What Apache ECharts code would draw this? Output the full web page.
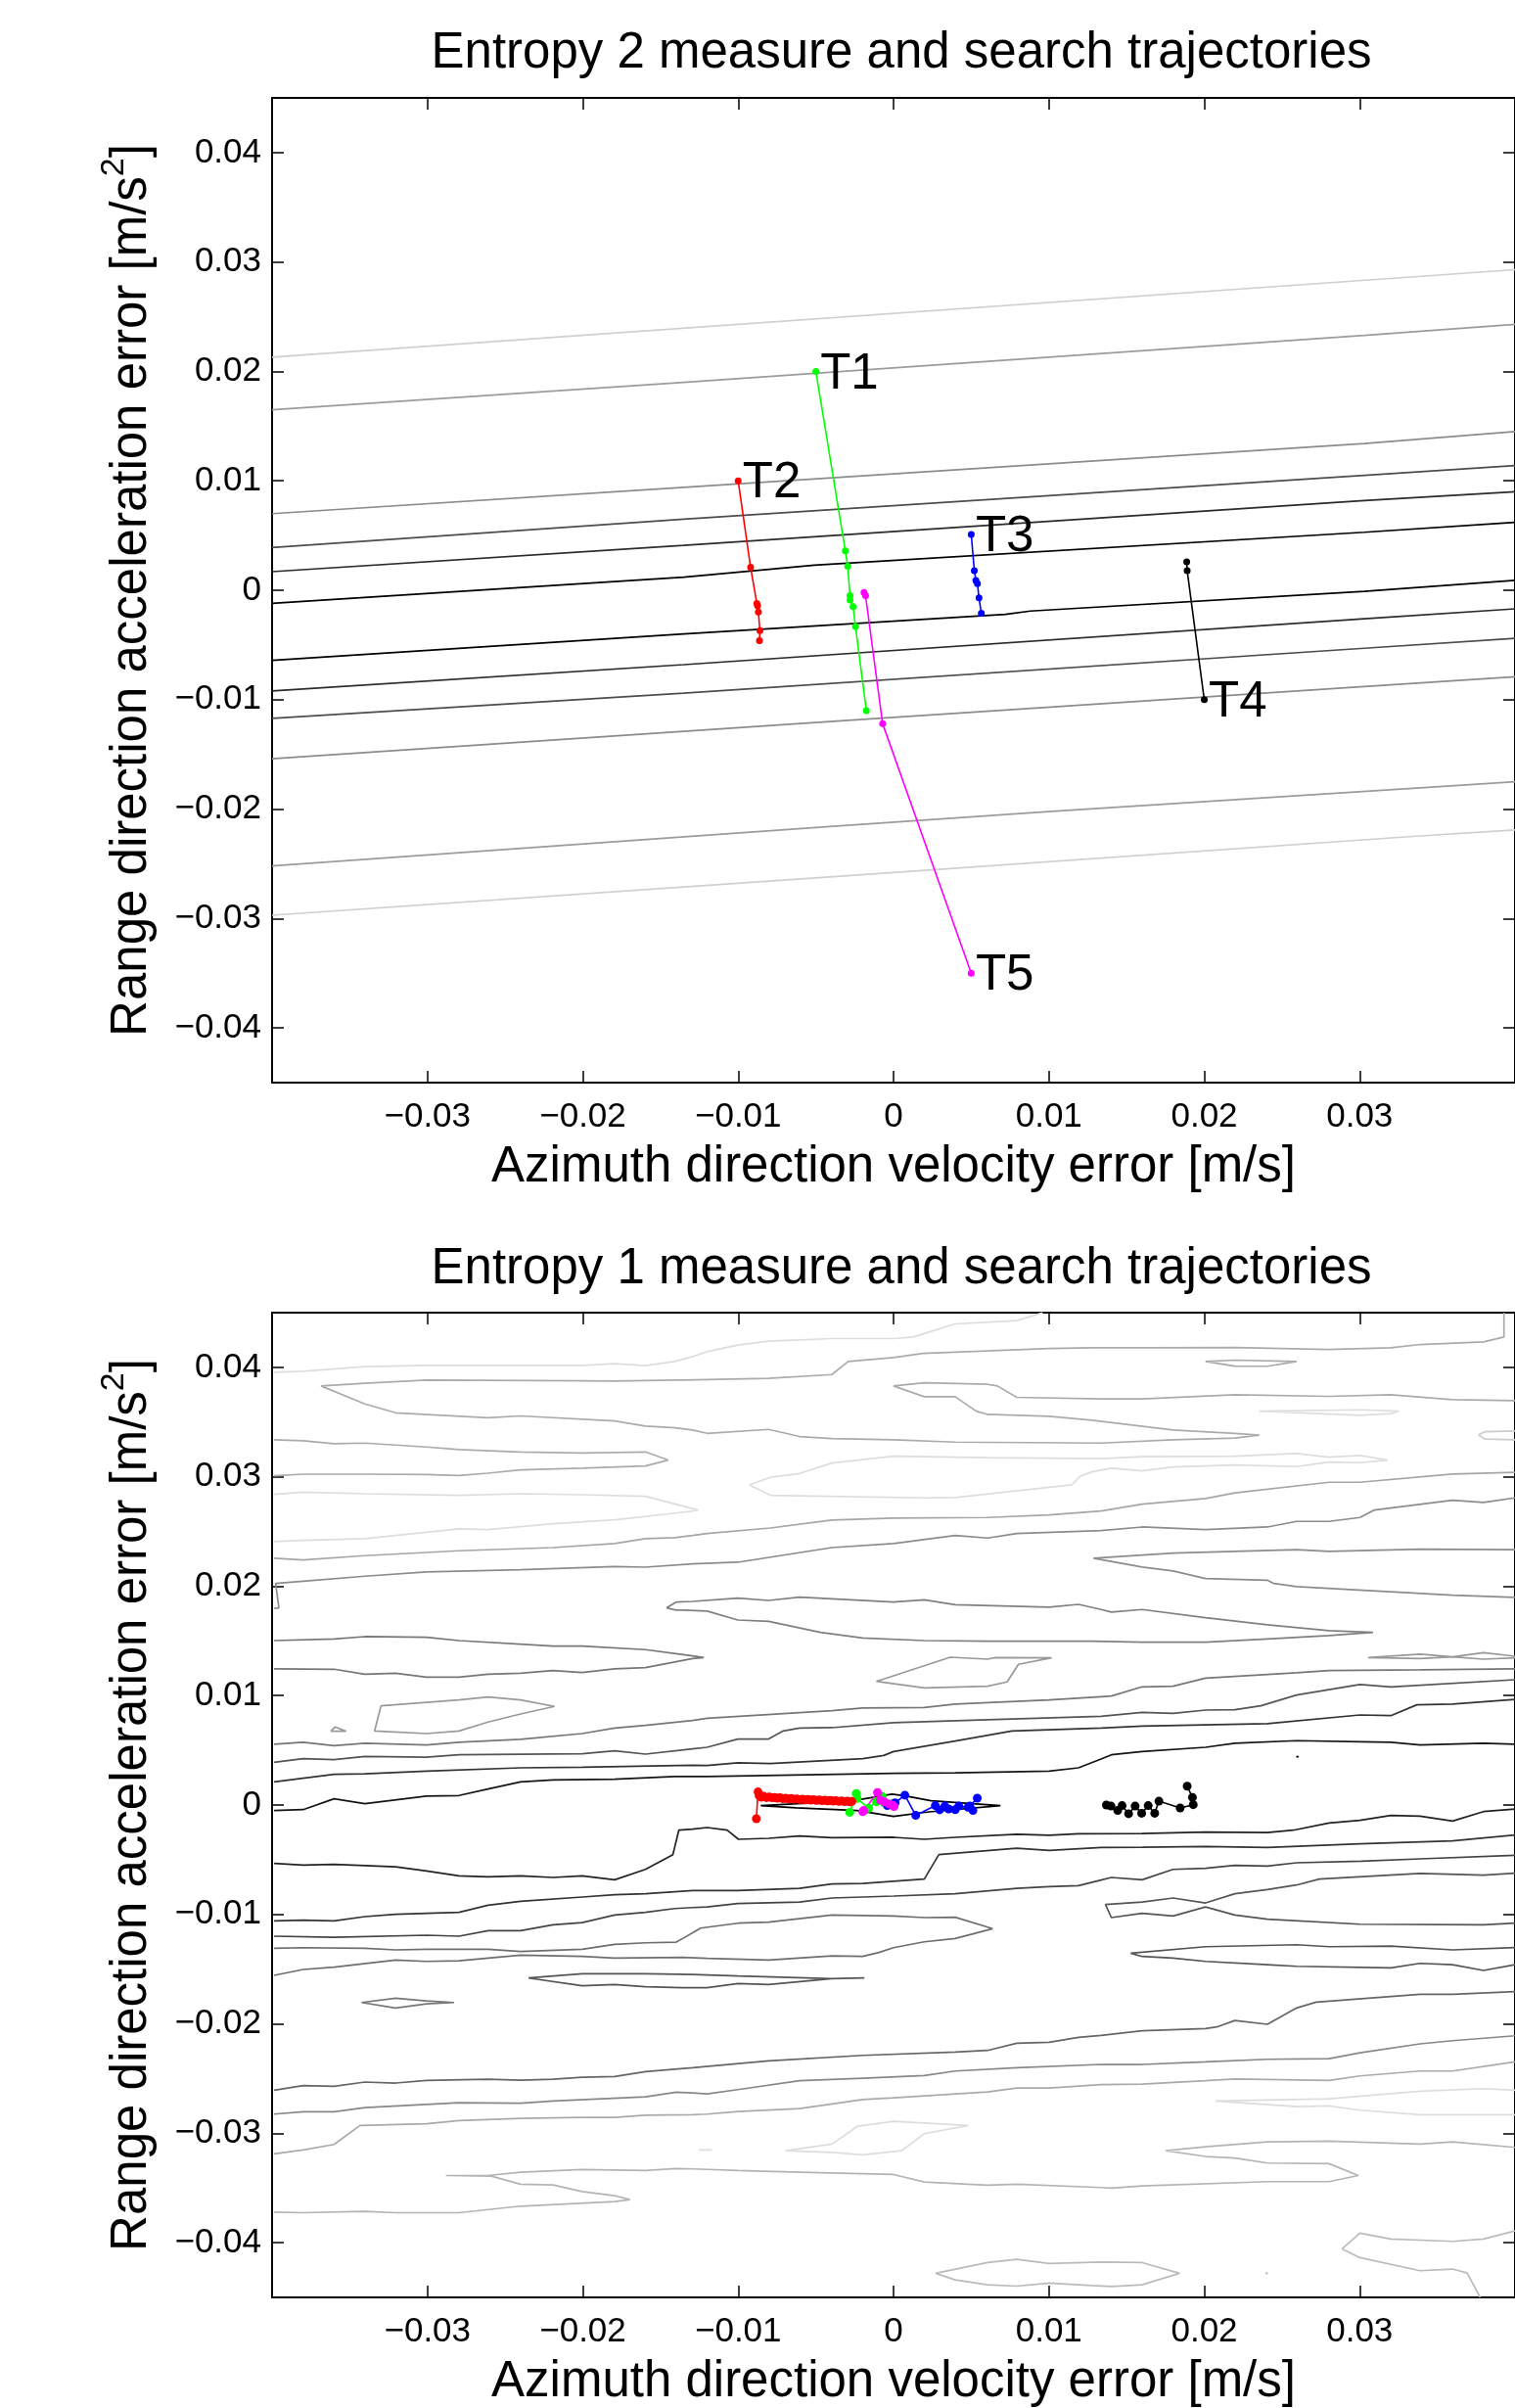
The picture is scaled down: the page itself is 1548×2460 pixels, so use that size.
<!DOCTYPE html>
<html>
<head>
<meta charset="utf-8">
<script src="https://cdn.jsdelivr.net/npm/echarts@6/dist/echarts.min.js"></script>
<style>
html,body{margin:0;padding:0;background:#fff;}
#chart{width:1548px;height:2460px;}
</style>
</head>
<body>
<div id="chart"></div>
<script>
// ---------- axis ticks ----------
const xTickValues = [-0.03, -0.02, -0.01, 0, 0.01, 0.02, 0.03];
const yTickValues = [-0.04, -0.03, -0.02, -0.01, 0, 0.01, 0.02, 0.03, 0.04];

// ---------- Entropy 2: contour lines ----------
const e2L01 = [[-0.04,0.0213],[0.04,0.0293]];
const e2L02 = [[-0.04,0.0165],[-0.0135,0.0190],[0.0303,0.0233],[0.04,0.0243]];
const e2L03 = [[-0.04,0.0070],[-0.0135,0.0094],[0.0303,0.0134],[0.04,0.0145]];
const e2L04 = [[-0.04,0.0039],[-0.0135,0.0065],[0.0303,0.0105],[0.04,0.0114]];
const e2L05 = [[-0.04,0.0017],[-0.0135,0.0041],[0.0303,0.0082],[0.04,0.0090]];
const e2L06 = [[-0.04,-0.0012],[-0.0135,0.0012],[-0.0051,0.0023],[0.0303,0.0053],[0.04,0.0062]];
const e2L07 = [[-0.04,-0.0064],[-0.0135,-0.0040],[0.0072,-0.0022],[0.0088,-0.0019],[0.0303,-0.0001],[0.04,0.0009]];
const e2L08 = [[-0.04,-0.0092],[-0.0135,-0.0068],[0.0303,-0.0026],[0.04,-0.0017]];
const e2L09 = [[-0.04,-0.0117],[-0.0135,-0.0094],[0.0303,-0.0053],[0.04,-0.0044]];
const e2L10 = [[-0.04,-0.0154],[-0.0135,-0.0129],[-0.0041,-0.0120],[0.0303,-0.0088],[0.04,-0.0079]];
const e2L11 = [[-0.04,-0.0252],[-0.0041,-0.0216],[0.0102,-0.0202],[0.0334,-0.0181],[0.04,-0.0175]];
const e2L12 = [[-0.04,-0.0297],[-0.0041,-0.0262],[0.0334,-0.0225],[0.04,-0.0219]];
const e2Contours = [e2L01,e2L02,e2L03,e2L04,e2L05,e2L06,e2L07,e2L08,e2L09,e2L10,e2L11,e2L12];
const e2ContourGray = ['#cfcfcf','#9c9c9c','#8c8c8c','#4d4d4d','#2b2b2b','#000000','#000000','#2b2b2b','#4d4d4d','#8c8c8c','#9c9c9c','#cfcfcf'];

// ---------- Entropy 2: search trajectories ----------
const trajNames = ['T1','T2','T3','T4','T5'];
const trajColors = ['#00ff00','#ff0000','#0000ff','#000000','#ff00ff'];
const e2T1 = [[-0.005,0.020],[-0.0031,0.0036],[-0.00295,0.0022],[-0.0028,-0.0005],[-0.0028,-0.0009],[-0.0026,-0.0015],[-0.00245,-0.0033],[-0.00175,-0.0110]];
const e2T2 = [[-0.010,0.010],[-0.0092,0.0021],[-0.0088,-0.0012],[-0.00875,-0.0014],[-0.0087,-0.0020],[-0.0086,-0.0037],[-0.00863,-0.0046]];
const e2T3 = [[0.005,0.0051],[0.0052,0.0018],[0.0053,0.0009],[0.0054,0.0006],[0.0055,-0.0007],[0.00565,-0.0021]];
const e2T4 = [[0.020,-0.010],[0.0189,0.0018],[0.01887,0.0026]];
const e2T5 = [[0.005,-0.035],[-0.0007,-0.0122],[-0.0018,-0.0005],[-0.0019,-0.0002]];
const e2Traj = [e2T1,e2T2,e2T3,e2T4,e2T5];

// ---------- Entropy 1: contour lines ----------
const e1A = [[-0.03987,0.03955],[-0.038,0.03964],[-0.03403,0.04006],[-0.03006,0.04018],[-0.02004,0.04018],[-0.01795,0.04033],[-0.01597,0.04015],[-0.01409,0.04054],[-0.01294,0.04098],[-0.012,0.04143],[-0.01002,0.04203],[-0.00804,0.04239],[-0.00397,0.04263],[0,0.04263],[0.00125,0.04277],[0.00397,0.04397],[0.00793,0.04427],[0.0096,0.045]];
const e1B = [[0.03929,0.045],[0.03929,0.04277],[0.03797,0.04233],[0.03389,0.04209],[0.03201,0.04179],[0.02803,0.04164],[0.02197,0.04182],[0.016,0.04179],[0.01276,0.04179],[0.01002,0.04173],[0.00188,0.04128],[0,0.0409],[-0.00292,0.04054],[-0.00397,0.03934],[-0.00804,0.03899],[-0.01357,0.03884],[-0.01409,0.03884],[-0.01795,0.03875],[-0.02004,0.03878],[-0.03006,0.03884],[-0.03403,0.03854],[-0.03685,0.0383],[-0.03403,0.03666],[-0.03205,0.03585],[-0.0261,0.0354],[-0.02401,0.03556],[-0.01795,0.03511],[-0.01597,0.03463],[-0.01409,0.03448],[-0.01294,0.03427],[-0.012,0.03397],[-0.00804,0.03433],[-0.00605,0.03368],[-0.00397,0.0335],[0,0.03338],[0.00397,0.03317],[0.01336,0.03308],[0.01799,0.03338],[0.02197,0.03353],[0.02354,0.0338],[0.02197,0.03397],[0.01799,0.03427],[0.01276,0.03517],[0.0119,0.03529],[0.01002,0.03553],[0.00605,0.0357],[0.00532,0.036],[0.00397,0.03732],[0.00198,0.03732],[0,0.0383],[0.00198,0.0386],[0.00605,0.03845],[0.00668,0.0383],[0.00793,0.03726],[0.01336,0.03711],[0.016,0.03711],[0.02197,0.0375],[0.02803,0.03735],[0.03201,0.0375],[0.03598,0.03705],[0.04,0.03696]];
const e1C = [[-0.03987,0.03338],[-0.038,0.03329],[-0.03601,0.03302],[-0.03403,0.03308],[-0.03006,0.03272],[-0.02797,0.03248],[-0.02401,0.03227],[-0.02004,0.03218],[-0.01597,0.03227],[-0.01451,0.03153],[-0.01597,0.03099],[-0.02004,0.03078],[-0.02401,0.03063],[-0.0261,0.03033],[-0.02797,0.03012],[-0.03006,0.03021],[-0.03403,0.03024],[-0.038,0.03024],[-0.03987,0.03009]];
const e1D = [[-0.03987,0.02839],[-0.038,0.0286],[-0.03403,0.02845],[-0.02797,0.0283],[-0.02401,0.02845],[-0.02004,0.02836],[-0.01597,0.02821],[-0.01294,0.0271],[-0.01257,0.02697],[-0.01294,0.02686],[-0.01597,0.02637],[-0.01795,0.02607],[-0.02192,0.02571],[-0.0261,0.02518],[-0.02797,0.02524],[-0.03403,0.02434],[-0.038,0.02419],[-0.03987,0.02407]];
const e1E = [[-0.03987,0.02255],[-0.038,0.0224],[-0.03403,0.02279],[-0.02797,0.02324],[-0.02192,0.02353],[-0.01795,0.02389],[-0.01597,0.02434],[-0.01409,0.02443],[-0.01294,0.02464],[-0.012,0.02482],[-0.00793,0.02532],[-0.00397,0.02604],[0,0.02622],[0.00605,0.02628],[0.01002,0.02652],[0.01336,0.02688],[0.016,0.0275],[0.02008,0.02801],[0.02197,0.02852],[0.02803,0.0295],[0.03002,0.0295],[0.03598,0.03025],[0.04,0.0304]];
const e1F = [[-0.03987,0.01796],[-0.03956,0.01802],[-0.03977,0.02025],[-0.038,0.02046],[-0.03403,0.02091],[-0.03006,0.0213],[-0.02401,0.02151],[-0.01795,0.0218],[-0.01597,0.02174],[-0.01294,0.02204],[-0.01002,0.02219],[-0.00397,0.02353],[0,0.02389],[0.00397,0.02464],[0.00605,0.0244],[0.00793,0.02482],[0.01336,0.02509],[0.016,0.02541],[0.02008,0.02518],[0.02406,0.02541],[0.02594,0.02592],[0.02803,0.02592],[0.03002,0.02628],[0.03096,0.02697],[0.03598,0.02786],[0.03797,0.02765],[0.04,0.02807]];
const e1G = [[0.04,0.02333],[0.03389,0.02339],[0.02803,0.02318],[0.02594,0.02333],[0.01799,0.02303],[0.01287,0.02255],[0.016,0.02175],[0.01799,0.02139],[0.02008,0.0207],[0.02406,0.02055],[0.02448,0.02025],[0.02594,0.01996],[0.03598,0.01918],[0.04,0.01897]];
const e1H = [[-0.01461,0.01802],[-0.01399,0.01855],[-0.01294,0.01861],[-0.01002,0.01891],[-0.00804,0.0187],[-0.00605,0.019],[0,0.01855],[0.00198,0.01876],[0.00397,0.01831],[0.01002,0.01808],[0.0119,0.01834],[0.01336,0.01787],[0.01402,0.01763],[0.016,0.01787],[0.02008,0.01712],[0.02406,0.01647],[0.02803,0.01593],[0.03086,0.01578],[0.02803,0.01548],[0.02406,0.01518],[0.02008,0.01488],[0.016,0.01488],[0.01276,0.01497],[0.00605,0.01497],[0.00198,0.01503],[-0.00198,0.01527],[-0.0047,0.01578],[-0.00804,0.01679],[-0.01002,0.01691],[-0.012,0.01772],[-0.01357,0.01781],[-0.01399,0.01781],[-0.01461,0.01802]];
const e1I = [[-0.03987,0.01503],[-0.03601,0.01518],[-0.03403,0.01539],[-0.03006,0.01533],[-0.02797,0.01503],[-0.02192,0.01453],[-0.02004,0.01453],[-0.01597,0.0142],[-0.01294,0.01363],[-0.01221,0.01348],[-0.01294,0.01339],[-0.01597,0.01256],[-0.01795,0.01244],[-0.02004,0.01211],[-0.02192,0.01229],[-0.02401,0.01205],[-0.0261,0.01196],[-0.02797,0.01169],[-0.03006,0.01169],[-0.03205,0.01205],[-0.03403,0.01196],[-0.03601,0.01241],[-0.03987,0.01244]];
const e1J = [[-0.03299,0.00907],[-0.02797,0.0096],[-0.0261,0.00987],[-0.02401,0.0096],[-0.02182,0.00901],[-0.02401,0.00832],[-0.0261,0.00758],[-0.02797,0.00677],[-0.03006,0.00653],[-0.0334,0.00677],[-0.03299,0.00907]];
const e1Jb = [[-0.03622,0.00674],[-0.03595,0.00713],[-0.03524,0.00674],[-0.03622,0.00674]];
const e1K = [[-0.00111,0.0113],[0.00365,0.01351],[0.00605,0.01333],[0.00658,0.01348],[0.01017,0.01345],[0.00804,0.01286],[0.00731,0.01125],[0.00605,0.01086],[0.00198,0.01071],[-0.00111,0.0113]];
const e1L = [[0.04,0.0136],[0.03797,0.01393],[0.03598,0.01354],[0.03389,0.01378],[0.03054,0.01348],[0.03389,0.01339],[0.03598,0.01354],[0.03797,0.01333],[0.04,0.01345]];
const e1M = [[0.02008,0.04054],[0.02197,0.04066],[0.02594,0.04054],[0.02406,0.0401],[0.02197,0.04012],[0.02008,0.04054]];
const e1N = [[0.02354,0.036],[0.03002,0.03612],[0.03253,0.036],[0.03201,0.03577],[0.03002,0.03562],[0.02354,0.036]];
const e1O = [[-0.00929,0.02926],[-0.00793,0.02995],[-0.00605,0.0303],[-0.00397,0.03126],[0,0.03189],[0.00605,0.03174],[0.01336,0.03165],[0.016,0.03183],[0.02197,0.03189],[0.02594,0.03213],[0.02803,0.0318],[0.03002,0.03195],[0.0318,0.03153],[0.03002,0.03129],[0.02803,0.03135],[0.02594,0.03093],[0.02197,0.03108],[0.01799,0.0309],[0.016,0.03054],[0.01402,0.03078],[0.01276,0.03045],[0.012,0.03004],[0.01148,0.02926],[0.00397,0.0281],[0.00198,0.02807],[-0.00793,0.02831],[-0.00929,0.02926]];
const e1P = [[0.04,0.03418],[0.03808,0.03412],[0.03766,0.03383],[0.03808,0.03344],[0.04,0.03338]];
const e1L1 = [[-0.03987,0.00555],[-0.038,0.00573],[-0.03601,0.00543],[-0.03403,0.00564],[-0.03006,0.00549],[-0.02797,0.00573],[-0.02401,0.006],[-0.02004,0.00653],[-0.01795,0.00704],[-0.01597,0.00728],[-0.01294,0.00773],[-0.012,0.00793],[-0.00397,0.00862],[-0.00198,0.00886],[0.00198,0.00892],[0.00397,0.00922],[0.01002,0.0096],[0.01336,0.0099],[0.01402,0.00996],[0.016,0.0108],[0.01799,0.01086],[0.02008,0.0116],[0.02594,0.01208],[0.02803,0.01229],[0.03389,0.01235],[0.04,0.01244]];
const e1L2 = [[-0.03987,0.00391],[-0.038,0.00424],[-0.03601,0.00415],[-0.03403,0.00444],[-0.03006,0.00438],[-0.02797,0.00459],[-0.02004,0.00468],[-0.01795,0.00495],[-0.01597,0.00465],[-0.01294,0.00513],[-0.012,0.00528],[-0.01002,0.00603],[-0.00804,0.00603],[-0.0071,0.00677],[-0.00605,0.00704],[-0.00397,0.00707],[0,0.00752],[0.00605,0.00779],[0.01336,0.00811],[0.016,0.00847],[0.01799,0.00838],[0.02008,0.00868],[0.02197,0.00871],[0.02364,0.00907],[0.02594,0.01005],[0.03002,0.01101],[0.03201,0.0108],[0.04,0.01145]];
const e1L3 = [[-0.03987,0.00212],[-0.038,0.00245],[-0.03601,0.0028],[-0.03403,0.00286],[-0.03006,0.0031],[-0.02401,0.0034],[-0.02004,0.00346],[-0.01294,0.00364],[-0.012,0.00361],[-0.01002,0.00385],[-0.00793,0.00379],[-0.00198,0.00424],[-0.00063,0.00453],[0,0.00489],[0.00397,0.00585],[0.00762,0.00677],[0.01336,0.00704],[0.016,0.00722],[0.02406,0.00743],[0.03002,0.00823],[0.03201,0.00817],[0.03368,0.00916],[0.03598,0.00922],[0.04,0.00966]];
const e1L4 = [[-0.03987,-0.0005],[-0.038,-0.00042],[-0.03601,0.00057],[-0.03403,0.00012],[-0.03006,0.00081],[-0.02797,0.00087],[-0.0261,0.00146],[-0.02401,0.00212],[-0.02192,0.0023],[-0.01795,0.00236],[-0.01409,0.0026],[-0.012,0.0026],[0,0.00289],[0.00397,0.00295],[0.01002,0.0031],[0.0119,0.0034],[0.01336,0.0042],[0.01402,0.00459],[0.016,0.00489],[0.02008,0.00528],[0.02197,0.00564],[0.02594,0.00588],[0.03002,0.00579],[0.03201,0.00573],[0.03389,0.00549],[0.03797,0.00564],[0.04,0.00555]];
const e1Z = [[-0.00855,-0.00005],[-0.00262,0.00039],[-0.0001,0.00099],[0.00073,0.00084],[0.00241,0.00039],[0.00688,-0.00005],[0.00213,-0.00065],[0,-0.00104],[-0.00234,-0.0005],[-0.00626,-0.00026],[-0.00855,-0.00005]];
const e1L5 = [[-0.03987,-0.00534],[-0.038,-0.00549],[-0.03601,-0.00543],[-0.03205,-0.00564],[-0.03006,-0.00603],[-0.02797,-0.00647],[-0.0261,-0.00656],[-0.02401,-0.00647],[-0.02192,-0.00662],[-0.02004,-0.00647],[-0.01795,-0.00683],[-0.01597,-0.00588],[-0.0142,-0.00453],[-0.01382,-0.0023],[-0.01294,-0.00221],[-0.012,-0.00206],[-0.01071,-0.0023],[-0.00998,-0.00313],[-0.00804,-0.00304],[-0.00605,-0.00283],[-0.00397,-0.00298],[0,-0.00295],[0.00198,-0.00313],[0.00397,-0.00295],[0.00793,-0.00268],[0.01002,-0.00277],[0.0119,-0.00262],[0.016,-0.0026],[0.02008,-0.00248],[0.02406,-0.00251],[0.02573,-0.0023],[0.02803,-0.00164],[0.03002,-0.0014],[0.03201,-0.00095],[0.03389,-0.00101],[0.03598,-0.00146],[0.03797,-0.0006],[0.04,-0.00036]];
const e1L6 = [[-0.03987,-0.01059],[-0.038,-0.01053],[-0.03601,-0.01059],[-0.03403,-0.0102],[-0.03205,-0.00999],[-0.02797,-0.00981],[-0.0261,-0.00916],[-0.02401,-0.0088],[-0.02004,-0.00841],[-0.01795,-0.0082],[-0.01597,-0.00811],[-0.01294,-0.00782],[-0.01002,-0.00782],[-0.00605,-0.00761],[-0.00397,-0.00722],[-0.00198,-0.00716],[0.00198,-0.00677],[0.00292,-0.00453],[0.00793,-0.00394],[0.01002,-0.00415],[0.01336,-0.00388],[0.016,-0.00385],[0.02008,-0.00379],[0.02406,-0.00388],[0.03002,-0.00355],[0.03598,-0.00328],[0.04,-0.00274]];
const e1L7 = [[-0.03987,-0.01199],[-0.03601,-0.01208],[-0.03006,-0.0119],[-0.02797,-0.01199],[-0.0261,-0.01148],[-0.02401,-0.01148],[-0.02192,-0.01095],[-0.02004,-0.01074],[-0.01795,-0.01005],[-0.01597,-0.00981],[-0.01409,-0.00946],[-0.01294,-0.00937],[-0.012,-0.00931],[-0.01002,-0.00901],[-0.00605,-0.00886],[-0.00397,-0.0085],[0,-0.00832],[0.00397,-0.00811],[0.00793,-0.00761],[0.01002,-0.00746],[0.0119,-0.00737],[0.01336,-0.00686],[0.01402,-0.00662],[0.016,-0.00683],[0.01799,-0.00588],[0.02008,-0.00579],[0.02197,-0.00552],[0.02406,-0.00558],[0.02594,-0.00528],[0.03012,-0.00513],[0.03389,-0.00492],[0.04,-0.00459]];
const e1L8 = [[-0.03987,-0.0131],[-0.038,-0.01304],[-0.03403,-0.0131],[-0.03205,-0.01324],[-0.03006,-0.01318],[-0.0261,-0.01318],[-0.02401,-0.01339],[-0.02004,-0.01318],[-0.01795,-0.01274],[-0.01597,-0.01259],[-0.01399,-0.01253],[-0.01357,-0.0122],[-0.01242,-0.01125],[-0.01002,-0.0108],[-0.00804,-0.01071],[-0.00397,-0.01005],[0,-0.01014],[0.00198,-0.01029],[0.00397,-0.01026],[0.00637,-0.0113],[0.00397,-0.0122],[0.00198,-0.0125],[0,-0.01304],[-0.00094,-0.01348],[-0.00198,-0.01384],[-0.00397,-0.01378],[-0.00804,-0.01417],[-0.012,-0.01402],[-0.01357,-0.01393],[-0.01795,-0.01399],[-0.02004,-0.01384],[-0.02401,-0.01372],[-0.02797,-0.01423],[-0.03006,-0.01429],[-0.03205,-0.01417],[-0.03601,-0.01482],[-0.038,-0.01503],[-0.03987,-0.01557]];
const e1L9 = [[-0.02349,-0.01581],[-0.02004,-0.01542],[-0.01597,-0.01542],[-0.01294,-0.01548],[-0.01002,-0.01563],[-0.00397,-0.01587],[-0.00188,-0.01581],[-0.00397,-0.01587],[-0.00804,-0.01641],[-0.01002,-0.01632],[-0.012,-0.0167],[-0.01357,-0.0167],[-0.01597,-0.01661],[-0.01795,-0.01641],[-0.02004,-0.01652],[-0.02349,-0.01581]];
const e1Q = [[-0.03424,-0.01805],[-0.03205,-0.01766],[-0.03006,-0.0179],[-0.02829,-0.01805],[-0.03006,-0.01817],[-0.03205,-0.01855],[-0.03424,-0.01805]];
const e1R = [[0.04,-0.00623],[0.03797,-0.00641],[0.03389,-0.00626],[0.02741,-0.00677],[0.02594,-0.00731],[0.02406,-0.00773],[0.02197,-0.00811],[0.02008,-0.00895],[0.01799,-0.0085],[0.016,-0.00886],[0.01364,-0.0091],[0.01402,-0.01029],[0.016,-0.0099],[0.01799,-0.01014],[0.02008,-0.00931],[0.02197,-0.01005],[0.02406,-0.01044],[0.03002,-0.01089],[0.03797,-0.01095],[0.04,-0.0108]];
const e1S = [[0.04,-0.01303],[0.03598,-0.01324],[0.03201,-0.01289],[0.02803,-0.01295],[0.02594,-0.01277],[0.02008,-0.01295],[0.01527,-0.01354],[0.016,-0.01384],[0.01799,-0.01399],[0.02008,-0.01429],[0.02406,-0.01459],[0.02594,-0.01474],[0.03201,-0.01488],[0.03389,-0.01447],[0.03598,-0.01459],[0.03797,-0.01512],[0.04,-0.01459]];
const e1L10 = [[-0.03987,-0.02607],[-0.038,-0.02565],[-0.03601,-0.02571],[-0.03403,-0.02532],[-0.03205,-0.02541],[-0.03006,-0.02518],[-0.0261,-0.02506],[-0.02401,-0.02515],[-0.02192,-0.02506],[-0.02004,-0.02488],[-0.01795,-0.02482],[-0.01597,-0.02437],[-0.01294,-0.02401],[-0.00804,-0.02339],[-0.00198,-0.02288],[0.00397,-0.02258],[0.00605,-0.02243],[0.00793,-0.02177],[0.01002,-0.02169],[0.0119,-0.02124],[0.01336,-0.02106],[0.016,-0.02064],[0.02008,-0.02043],[0.02082,-0.02028],[0.02197,-0.01969],[0.02406,-0.02004],[0.02594,-0.01855],[0.0272,-0.01802],[0.03389,-0.0173],[0.03598,-0.0173],[0.04,-0.01706]];
const e1L11 = [[-0.03987,-0.02825],[-0.038,-0.02804],[-0.03601,-0.02804],[-0.03403,-0.02765],[-0.02797,-0.0272],[-0.02401,-0.02726],[-0.02192,-0.02705],[-0.01597,-0.02667],[-0.01399,-0.02625],[-0.01294,-0.02631],[-0.012,-0.0264],[-0.01002,-0.02601],[-0.00605,-0.0252],[-0.00198,-0.02497],[0.00198,-0.02473],[0.00397,-0.02431],[0.00793,-0.02401],[0.01336,-0.02371],[0.016,-0.02371],[0.02008,-0.02348],[0.02406,-0.02324],[0.02803,-0.02318],[0.03002,-0.02264],[0.03389,-0.02183],[0.03598,-0.02154],[0.04,-0.02109]];
const e1L12 = [[-0.03987,-0.03189],[-0.038,-0.03153],[-0.03601,-0.03102],[-0.03434,-0.02929],[-0.03006,-0.02914],[-0.02797,-0.02884],[-0.02401,-0.02864],[-0.02004,-0.02855],[-0.01795,-0.02855],[-0.01597,-0.02834],[-0.01294,-0.02831],[-0.012,-0.02825],[-0.01002,-0.02801],[-0.00605,-0.02774],[-0.00198,-0.02691],[0,-0.02676],[0.00605,-0.02622],[0.00793,-0.02586],[0.01002,-0.02586],[0.01336,-0.02556],[0.016,-0.0255],[0.02008,-0.0252],[0.02197,-0.02503],[0.02803,-0.02518],[0.03002,-0.02476],[0.03389,-0.02431],[0.03598,-0.02431],[0.04,-0.02348]];
const e1L13 = [[0.04,-0.02607],[0.03797,-0.02592],[0.03389,-0.02616],[0.02803,-0.02685],[0.02071,-0.02706],[0.02594,-0.02756],[0.02803,-0.0275],[0.03002,-0.02789],[0.03389,-0.02831],[0.04,-0.02831]];
const e1L14 = [[-0.00693,-0.03159],[-0.00397,-0.03099],[-0.0023,-0.02935],[0,-0.0289],[0.0048,-0.02929],[0.00198,-0.03004],[0.00052,-0.03159],[-0.00198,-0.03198],[-0.00397,-0.03174],[-0.00693,-0.03159]];
const e1L14b = [[-0.01253,-0.03153],[-0.01169,-0.03153]];
const e1L15 = [[-0.03987,-0.0372],[-0.038,-0.03726],[-0.03403,-0.03714],[-0.03205,-0.03726],[-0.02797,-0.03726],[-0.02401,-0.03666],[-0.01795,-0.03624],[-0.01697,-0.03606],[-0.01795,-0.0357],[-0.02004,-0.03532],[-0.02192,-0.03472],[-0.02401,-0.03466],[-0.02589,-0.03392],[-0.02881,-0.03386],[-0.0261,-0.03386],[-0.02401,-0.03356],[-0.02004,-0.03332],[-0.01597,-0.03341],[-0.01399,-0.03323],[-0.01294,-0.03326],[-0.01002,-0.03341],[-0.00605,-0.03356],[0,-0.03377],[0.00198,-0.03445],[0.00605,-0.03475],[0.00793,-0.03466],[0.01336,-0.03496],[0.01402,-0.03502],[0.016,-0.03481],[0.02406,-0.03442],[0.02803,-0.03442],[0.02992,-0.03386],[0.02803,-0.03278],[0.02406,-0.03272],[0.02197,-0.03227],[0.02008,-0.03212],[0.01753,-0.03159],[0.02008,-0.03123],[0.02406,-0.03078],[0.02803,-0.03072],[0.03389,-0.03099],[0.03598,-0.03078],[0.04,-0.03129]];
const e1L16 = [[0.00271,-0.0428],[0.00605,-0.04182],[0.00793,-0.04152],[0.01002,-0.04191],[0.01336,-0.04176],[0.016,-0.04182],[0.01841,-0.0428],[0.016,-0.04385],[0.01402,-0.044],[0.01276,-0.04391],[0.01002,-0.0437],[0.00793,-0.04397],[0.00605,-0.04385],[0.00397,-0.0434],[0.00271,-0.0428]];
const e1L17 = [[0.04,-0.03893],[0.03797,-0.03967],[0.03598,-0.03988],[0.03201,-0.03967],[0.03002,-0.03913],[0.02887,-0.04057],[0.03002,-0.04137],[0.03389,-0.04256],[0.03598,-0.04241],[0.03692,-0.04277],[0.03776,-0.045]];
const e1Dot1 = [[0.02592,0.00441],[0.02608,0.00441]];
const e1Dot2 = [[0.02395,-0.0428],[0.02409,-0.0428]];
const e1Contours = [e1A,e1B,e1C,e1D,e1E,e1F,e1G,e1H,e1I,e1J,e1Jb,e1K,e1L,e1M,e1N,e1O,e1P,e1L1,e1L2,e1L3,e1L4,e1Z,e1L5,e1L6,e1L7,e1L8,e1L9,e1Q,e1R,e1S,e1L10,e1L11,e1L12,e1L13,e1L14,e1L14b,e1L15,e1L16,e1L17,e1Dot1,e1Dot2];
const e1ContourGray = ['#dddddd','#ababab','#ababab','#dddddd','#a6a6a6','#8c8c8c','#8c8c8c','#808080','#777777','#999999','#999999','#999999','#999999','#aaaaaa','#dddddd','#dddddd','#cccccc','#777777','#555555','#333333','#151515','#000000','#222222','#333333','#444444','#6e6e6e','#555555','#777777','#555555','#555555','#666666','#888888','#aaaaaa','#dddddd','#dddddd','#dddddd','#b4b4b4','#bbbbbb','#bbbbbb','#000000','#aaaaaa'];

// ---------- Entropy 1: search trajectories ----------
const e1T1 = [[-0.00282,-0.00066],[-0.0024,0.00105],[-0.00234,0.0006],[-0.0016,-0.0003],[-0.0011,0.0003],[-0.00073,0.00078],[-0.0006,0.0002],[-0.0002,0.0001],[0.00003,-0.00005]];
const e1T2 = [[-0.00883,-0.00125],[-0.00872,0.00120],[-0.00865,0.00085],[-0.00850,0.00072],[-0.00835,0.00080],[-0.00818,0.00068],[-0.00800,0.00074],[-0.00782,0.00066],[-0.00765,0.00070],[-0.00748,0.00062],[-0.00730,0.00066],[-0.00712,0.00058],[-0.00695,0.00063],[-0.00676,0.00055],[-0.00658,0.00060],[-0.00640,0.00052],[-0.00622,0.00057],[-0.00604,0.00050],[-0.00586,0.00054],[-0.00568,0.00047],[-0.00550,0.00052],[-0.00532,0.00045],[-0.00514,0.00049],[-0.00496,0.00043],[-0.00478,0.00047],[-0.00460,0.00040],[-0.00442,0.00045],[-0.00424,0.00038],[-0.00406,0.00043],[-0.00388,0.00036],[-0.00370,0.00040],[-0.00352,0.00034],[-0.00334,0.00038],[-0.00316,0.00031],[-0.00298,0.00036],[-0.00280,0.00028],[-0.00268,0.00033]];
const e1T3 = [[-0.0004,-0.00005],[0.0001,0.0002],[0.00073,0.0009],[0.00143,-0.00095],[0.00269,-0.00005],[0.00297,-0.00044],[0.0033,-0.0001],[0.00355,-0.00036],[0.00397,-0.00042],[0.0042,-0.0001],[0.0048,-0.00021],[0.00511,-0.0005],[0.0049,-0.0001],[0.00539,0.00063]];
const e1T4 = [[0.0137,0.0000],[0.0140,-0.0001],[0.01443,-0.0005],[0.01471,-0.00005],[0.01513,-0.0008],[0.01555,-0.0001],[0.01597,-0.00075],[0.01639,-0.00005],[0.01681,-0.00075],[0.01708,0.00035],[0.01845,-0.00027],[0.01929,0.00003],[0.01924,0.0007],[0.0189,0.00172]];
const e1T5 = [[-0.00198,-0.0006],[-0.00192,-0.0005],[-0.00103,0.00114],[-0.00084,0.00045],[-0.0006,0.0003],[-0.0003,0.0001],[0.00003,-0.00014],[-0.00004,-0.00003]];
const e1Traj = [e1T1,e1T2,e1T3,e1T4,e1T5];

const titles = ['Entropy 2 measure and search trajectories','Entropy 1 measure and search trajectories'];
const xName = 'Azimuth direction velocity error [m/s]';

// ---------- build chart ----------
const FONT = '"Liberation Sans", Arial, Helvetica, sans-serif';
const GRID_TOPS = [100, 1341];
const fmt = v => {
  if (Math.abs(v) < 1e-12) return '0';
  return (v < 0 ? '\u2212' : '') + Math.abs(v).toFixed(2);
};

const grids = GRID_TOPS.map(t => ({left: 278, top: t, width: 1277, height: 1006, containLabel: false}));
const xAxes = [], yAxes = [];
[0,1].forEach(g => {
  const common = {gridIndex: g, type: 'value', min: -0.04, max: 0.04, splitLine: {show: false},
    axisLine: {show: true, onZero: false, lineStyle: {color: '#000', width: 2}}};
  xAxes.push(Object.assign({}, common, {position: 'bottom',
    axisTick: {show: true, inside: true, length: 12, customValues: xTickValues, lineStyle: {color: '#000', width: 1.5}},
    axisLabel: {show: true, customValues: xTickValues, formatter: fmt, fontSize: 35, color: '#000', fontFamily: FONT, margin: 18},
    name: xName, nameLocation: 'middle', nameGap: 61,
    nameTextStyle: {fontSize: 51, color: '#000', fontFamily: FONT}}));
  xAxes.push(Object.assign({}, common, {position: 'top',
    axisTick: {show: true, inside: true, length: 12, customValues: xTickValues, lineStyle: {color: '#000', width: 1.5}},
    axisLabel: {show: false}}));
  const ycommon = {gridIndex: g, type: 'value', min: -0.045, max: 0.045, splitLine: {show: false},
    axisLine: {show: true, onZero: false, lineStyle: {color: '#000', width: 2}}};
  yAxes.push(Object.assign({}, ycommon, {position: 'left',
    axisTick: {show: true, inside: true, length: 12, customValues: yTickValues, lineStyle: {color: '#000', width: 1.5}},
    axisLabel: {show: true, customValues: yTickValues, formatter: fmt, fontSize: 35, color: '#000', fontFamily: FONT, margin: 11},
    name: '{t|Range direction acceleration error [m/s}{s|2}{t|]}', nameLocation: 'middle', nameGap: 118, nameRotate: 90,
    nameTextStyle: {color: '#000', fontFamily: FONT, rich: {
      t: {fontSize: 51, fontFamily: FONT, color: '#000', lineHeight: 60, verticalAlign: 'bottom'},
      s: {fontSize: 34, fontFamily: FONT, color: '#000', lineHeight: 60, verticalAlign: 'top'}}}}));
  yAxes.push(Object.assign({}, ycommon, {position: 'right',
    axisTick: {show: true, inside: true, length: 12, customValues: yTickValues, lineStyle: {color: '#000', width: 1.5}},
    axisLabel: {show: false}}));
});

const series = [];
function addContours(list, grays, g) {
  list.forEach((pts, i) => series.push({type: 'line', xAxisIndex: g*2, yAxisIndex: g*2, data: pts,
    symbol: 'none', showSymbol: false, silent: true, z: 2, animation: false,
    lineStyle: {color: grays[i], width: 1.7}}));
}
function addTraj(list, g, labelled, symSize) {
  list.forEach((pts, i) => {
    const data = pts.map((p, k) => (labelled && k === 0) ? {value: p, label: {show: true, formatter: trajNames[i],
      position: 'right', distance: 1, offset: [0, 3], fontSize: 51, color: '#000', fontFamily: FONT}} : p);
    series.push({type: 'line', xAxisIndex: g*2, yAxisIndex: g*2, data: data, symbol: 'circle', symbolSize: symSize,
      showSymbol: true, showAllSymbol: true, silent: true, z: 5, animation: false,
      itemStyle: {color: trajColors[i]}, lineStyle: {color: trajColors[i], width: 1.6}});
  });
}
addContours(e2Contours, e2ContourGray, 0);
addTraj(e2Traj, 0, true, 7);
addContours(e1Contours, e1ContourGray, 1);
addTraj(e1Traj, 1, false, 9);

const chart = echarts.init(document.getElementById('chart'), null, {renderer: 'canvas'});
chart.setOption({
  animation: false,
  backgroundColor: '#fff',
  title: titles.map((t, i) => ({text: t, left: 916, textAlign: 'center', top: i === 0 ? 24 : 1266,
    textStyle: {fontSize: 51, fontWeight: 'normal', color: '#000', fontFamily: FONT}})),
  grid: grids,
  xAxis: xAxes,
  yAxis: yAxes,
  series: series
});
</script>
</body>
</html>
